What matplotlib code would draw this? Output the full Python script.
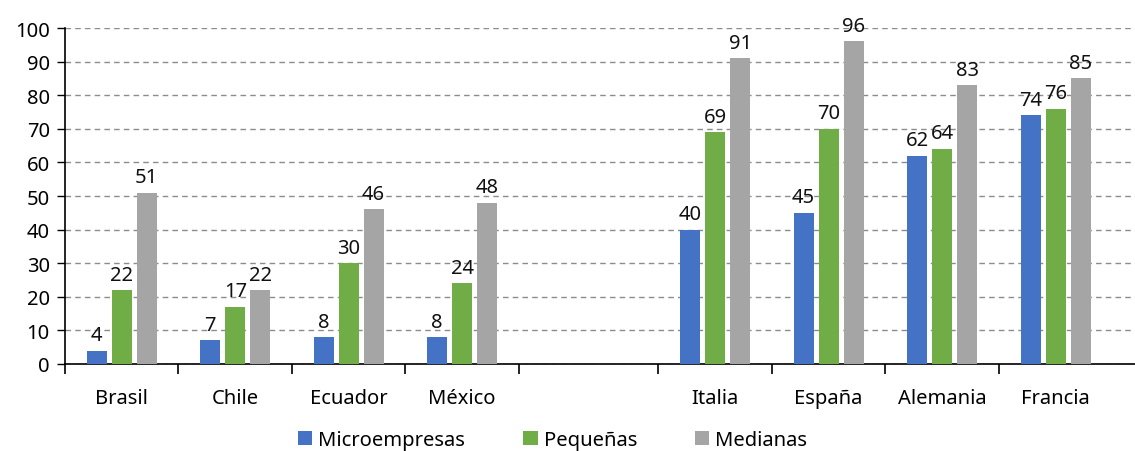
"""
Participación por tamaño de empresa: América Latina vs. Europa
"""

import matplotlib.pyplot as plt
import numpy as np

paises = ['Brasil', 'Chile', 'Ecuador', 'México',
          'Italia', 'España', 'Alemania', 'Francia']
series = ['Microempresas', 'Pequeñas', 'Medianas']
micro = [4, 7, 8, 8, 40, 45, 62, 74]
pequenas = [22, 17, 30, 24, 69, 70, 64, 76]
medianas = [51, 22, 46, 48, 91, 96, 83, 85]
colores = ['#4472C4', '#70AD47', '#A5A5A5']

# Separación extra entre el bloque latinoamericano y el europeo
HUECO = 1.23
FS = 14.5

plt.rcParams['font.family'] = ['Noto Sans', 'DejaVu Sans']


def main():
    x = np.arange(len(paises), dtype=float)
    x[4:] += HUECO

    fig = plt.figure(figsize=(11.35, 4.52), dpi=100)
    ax = fig.add_axes([0.0573, 0.1925, 0.9427, 0.7433])

    ancho = 0.176
    paso = 0.22
    for i, (nombre, valores) in enumerate(zip(series, [micro, pequenas, medianas])):
        barras = ax.bar(x + (i - 1) * paso, valores, width=ancho,
                        color=colores[i], label=nombre, zorder=3)
        for b, v in zip(barras, valores):
            ax.annotate(str(v), (b.get_x() + b.get_width() / 2, v),
                        xytext=(0, 4), textcoords='offset points',
                        ha='center', va='bottom', fontsize=FS,
                        color='#111111', annotation_clip=False)

    ax.set_ylim(0, 100)
    ax.set_xlim(-0.5, 8.93)
    ax.set_yticks(range(0, 101, 10))
    ax.tick_params(axis='y', labelsize=FS, length=6, width=1, pad=5)
    ax.yaxis.grid(True, linestyle=(0, (4, 3)), color='#8C8C8C',
                  linewidth=1, zorder=0)

    # Marcas en los límites de cada categoría, etiquetas en el centro
    limites = list(x[:4] - 0.5) + [3.5] + list(x[4:] - 0.5)
    ax.set_xticks(limites)
    ax.set_xticklabels([])
    ax.set_xticks(x, minor=True)
    ax.set_xticklabels(paises, minor=True, fontsize=FS)
    ax.tick_params(axis='x', which='major', length=7, width=1.2)
    ax.tick_params(axis='x', which='minor', length=0, pad=17)

    for lado in ['top', 'right']:
        ax.spines[lado].set_visible(False)
    ax.spines['left'].set_linewidth(1.2)
    ax.spines['bottom'].set_linewidth(1.2)

    fig.legend(loc='center', bbox_to_anchor=(0.487, 0.024), ncol=3,
               frameon=False, fontsize=FS, handlelength=0.7,
               handleheight=0.7, handletextpad=0.3, columnspacing=2.9)

    fig.savefig('out.png', dpi=100)
    plt.close(fig)


if __name__ == '__main__':
    main()
